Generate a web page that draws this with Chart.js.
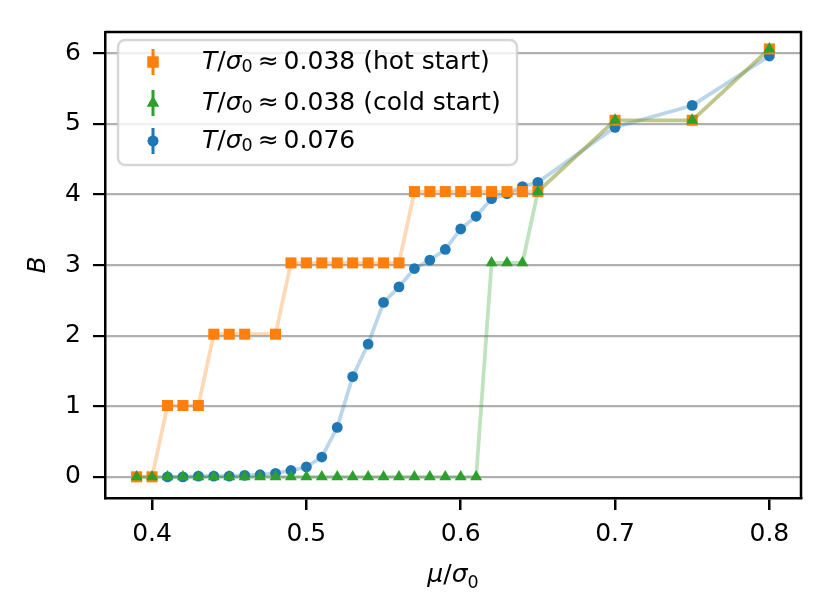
<!DOCTYPE html>
<html>
<head>
<meta charset="utf-8">
<script src="https://cdn.jsdelivr.net/npm/chart.js@4.4.1/dist/chart.umd.min.js"></script>
<style>
  body { margin: 0; background: #fff; }
  #wrap { width: 830px; height: 615px; }
</style>
</head>
<body>
<div id="wrap"><canvas id="chart" width="830" height="615"></canvas></div>
<script>
// mu/sigma0 values and measured B for each run
const hotX = [0.39, 0.40, 0.41, 0.42, 0.43, 0.44, 0.45, 0.46, 0.48, 0.49, 0.50, 0.51, 0.52, 0.53, 0.54,
  0.55, 0.56, 0.57, 0.58, 0.59, 0.60, 0.61, 0.62, 0.63, 0.64, 0.65, 0.70, 0.75, 0.80];
const hotB = [0, 0, 1.01, 1.01, 1.01, 2.02, 2.02, 2.02, 2.02, 3.03, 3.03, 3.03, 3.03, 3.03, 3.03,
  3.03, 3.03, 4.04, 4.04, 4.04, 4.04, 4.04, 4.04, 4.04, 4.04, 4.04, 5.05, 5.05, 6.06];

const coldX = [0.39, 0.40, 0.41, 0.42, 0.43, 0.44, 0.45, 0.46, 0.47, 0.48, 0.49, 0.50, 0.51, 0.52, 0.53,
  0.54, 0.55, 0.56, 0.57, 0.58, 0.59, 0.60, 0.61, 0.62, 0.63, 0.64, 0.65, 0.70, 0.75, 0.80];
const coldB = [0, 0, 0, 0, 0, 0, 0, 0, 0, 0, 0, 0, 0, 0, 0,
  0, 0, 0, 0, 0, 0, 0, 0, 3.03, 3.03, 3.03, 4.04, 5.05, 5.05, 6.06];

const warmX = [0.41, 0.42, 0.43, 0.44, 0.45, 0.46, 0.47, 0.48, 0.49, 0.50, 0.51, 0.52, 0.53, 0.54,
  0.55, 0.56, 0.57, 0.58, 0.59, 0.60, 0.61, 0.62, 0.63, 0.64, 0.65, 0.70, 0.75, 0.80];
const warmB = [0.00, 0.00, 0.01, 0.01, 0.01, 0.02, 0.03, 0.05, 0.09, 0.14, 0.28, 0.70, 1.42, 1.88,
  2.47, 2.69, 2.95, 3.07, 3.22, 3.51, 3.69, 3.94, 4.01, 4.11, 4.17, 4.95, 5.26, 5.96];

const xTicks = [0.4, 0.5, 0.6, 0.7, 0.8];
const yTicks = [0, 1, 2, 3, 4, 5, 6];

const legendLabels = ["0.038 (hot start)", "0.038 (cold start)", "0.076"];

const ORANGE = "#ff7f0e";
const GREEN = "#2ca02c";
const BLUE = "#1f77b4";
const FONT = "'DejaVu Sans', sans-serif";

const toPoints = (xs, ys) => xs.map((x, i) => ({ x: x, y: ys[i] }));

// draw text made of pieces, some italic, some subscript
function richText(ctx, parts, x, y, size) {
  let cx = x;
  parts.forEach(p => {
    const s = p.sub ? size * 0.7 : size;
    ctx.font = (p.it ? "oblique " : "") + s + "px " + FONT;
    ctx.fillText(p.t, cx, y + (p.sub ? size * 0.22 : 0));
    cx += ctx.measureText(p.t).width + (p.gap || 0);
  });
  return cx - x;
}

function richWidth(ctx, parts, size) {
  let w = 0;
  parts.forEach(p => {
    const s = p.sub ? size * 0.7 : size;
    ctx.font = (p.it ? "oblique " : "") + s + "px " + FONT;
    w += ctx.measureText(p.t).width + (p.gap || 0);
  });
  return w;
}

const extras = {
  id: "extras",
  afterDraw(chart) {
    const ctx = chart.ctx;
    const a = chart.chartArea;
    ctx.save();

    // top and right spines
    ctx.strokeStyle = "#000";
    ctx.lineWidth = 2.5;
    ctx.beginPath();
    ctx.moveTo(a.left, a.top);
    ctx.lineTo(a.right, a.top);
    ctx.lineTo(a.right, a.bottom);
    ctx.stroke();

    // legend box
    const bx = 118, by = 40, bw = 399, bh = 125, r = 7;
    ctx.beginPath();
    ctx.roundRect(bx, by, bw, bh, r);
    ctx.fillStyle = "rgba(255,255,255,0.8)";
    ctx.fill();
    ctx.strokeStyle = "rgba(204,204,204,0.8)";
    ctx.lineWidth = 2.5;
    ctx.stroke();

    const rows = [62, 103, 141];
    const colors = [ORANGE, GREEN, BLUE];
    const styles = ["rect", "triangle", "circle"];
    const radii = [7.8, 6.9, 5.4];
    ctx.textBaseline = "middle";
    ctx.textAlign = "left";
    rows.forEach((ry, i) => {
      ctx.strokeStyle = colors[i];
      ctx.lineWidth = 3;
      ctx.beginPath();
      ctx.moveTo(153, ry - 13);
      ctx.lineTo(153, ry + 13);
      ctx.stroke();
      ctx.fillStyle = colors[i];
      Chart.helpers.drawPoint(ctx, { pointStyle: styles[i], radius: radii[i], borderWidth: 0 }, 153, ry);
      ctx.fill();
      ctx.fillStyle = "#000";
      richText(ctx, [
        { t: "T", it: true },
        { t: "/" },
        { t: "σ", it: true },
        { t: "0", sub: true, gap: 5 },
        { t: "≈", gap: 5 },
        { t: legendLabels[i] }
      ], 202, ry, 25);
    });

    // x axis title
    const xt = [{ t: "μ", it: true }, { t: "/" }, { t: "σ", it: true }, { t: "0", sub: true }];
    const xw = richWidth(ctx, xt, 25);
    ctx.textBaseline = "alphabetic";
    richText(ctx, xt, (a.left + a.right) / 2 - xw / 2, 582, 25);

    // y axis title
    ctx.translate(45, (a.top + a.bottom) / 2);
    ctx.rotate(-Math.PI / 2);
    ctx.textAlign = "center";
    ctx.font = "oblique 25px " + FONT;
    ctx.fillText("B", 0, 0);

    ctx.restore();
  }
};

const ctx = document.getElementById("chart");
new Chart(ctx, {
  type: "scatter",
  data: {
    datasets: [
      {
        label: "hot",
        data: toPoints(hotX, hotB),
        showLine: true,
        borderColor: "rgba(255,127,14,0.3)",
        borderWidth: 3.75,
        pointStyle: "rect",
        pointRadius: 7.8,
        pointBackgroundColor: ORANGE,
        pointBorderWidth: 0,
        order: 1
      },
      {
        label: "cold",
        data: toPoints(coldX, coldB),
        showLine: true,
        borderColor: "rgba(44,160,44,0.3)",
        borderWidth: 3.75,
        pointStyle: "triangle",
        pointRadius: 6.9,
        pointBackgroundColor: GREEN,
        pointBorderWidth: 0,
        order: 0
      },
      {
        label: "warm",
        data: toPoints(warmX, warmB),
        showLine: true,
        borderColor: "rgba(31,119,180,0.3)",
        borderWidth: 3.75,
        pointStyle: "circle",
        pointRadius: 5.4,
        pointBackgroundColor: BLUE,
        pointBorderWidth: 0,
        order: 2
      }
    ]
  },
  options: {
    responsive: false,
    animation: false,
    devicePixelRatio: 1,
    layout: { padding: { left: 0, right: 29, top: 32, bottom: 0 } },
    plugins: {
      legend: { display: false },
      tooltip: { enabled: false }
    },
    scales: {
      x: {
        type: "linear",
        min: 0.3695,
        max: 0.8205,
        afterBuildTicks: s => { s.ticks = xTicks.map(v => ({ value: v })); },
        afterFit: s => { s.height = 117; },
        grid: { drawOnChartArea: false, color: "#000", tickLength: 12, lineWidth: 2.5 },
        border: { color: "#000", width: 2.5 },
        ticks: {
          color: "#000",
          font: { family: FONT, size: 25 },
          padding: 9,
          maxRotation: 0,
          callback: v => v.toFixed(1)
        }
      },
      y: {
        type: "linear",
        min: -0.3,
        max: 6.3,
        afterBuildTicks: s => { s.ticks = yTicks.map(v => ({ value: v })); },
        afterFit: s => { s.width = 105; },
        grid: { color: "#b0b0b0", tickColor: "#000", tickLength: 12, lineWidth: 2.2 },
        border: { color: "#000", width: 2.5 },
        ticks: {
          color: "#000",
          font: { family: FONT, size: 25 },
          padding: 12,
          callback: v => String(v)
        }
      }
    }
  },
  plugins: [extras]
});
</script>
</body>
</html>
